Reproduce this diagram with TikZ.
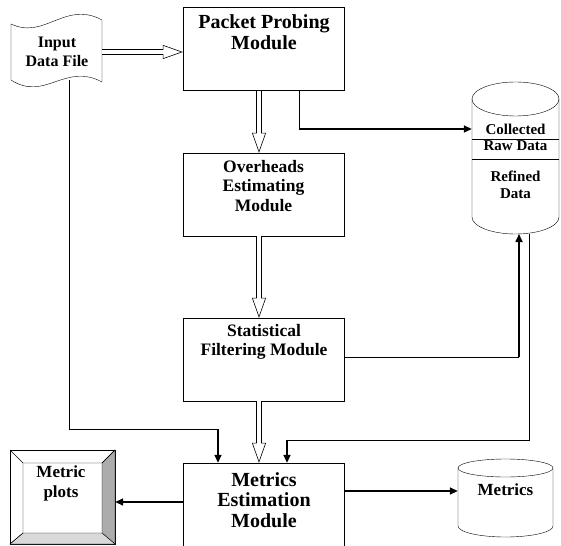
\documentclass[tikz,border=0pt]{standalone}
\usepackage{fontspec}
\setmainfont{Liberation Serif}
\usetikzlibrary{arrows.meta}
\usetikzlibrary{positioning}

\tikzset{
  modbox/.style={draw,thin,minimum width=161pt,minimum height=83pt},
  bigtext/.style={align=center,font=\fontsize{20}{20.5}\selectfont\bfseries},
  midtext/.style={align=center,font=\fontsize{17.5}{19.5}\selectfont\bfseries},
  smalltext/.style={align=center,font=\fontsize{16}{19}\selectfont\bfseries},
  dbtext/.style={align=center,font=\fontsize{15}{16.5}\selectfont\bfseries},
  flow/.style={line width=6pt,-{Triangle[open,fill=white,length=20pt 0 0,width=14pt 0 0,line width=0.6pt 0 0]},
    postaction={draw=white,line width=4.8pt,shorten >=19pt,-}},
  feed/.style={line width=1.6pt,-{Triangle[length=8pt,width=7pt]}},
  wire/.style={thin},
}

\begin{document}
\begin{tikzpicture}[x=1pt,y=-1pt]
\useasboundingbox (0,0) rectangle (561,545);
\clip (0,0) rectangle (561,545);

% input file (tape)
\draw[thin] (11,24) .. controls (45,40) and (65,0) .. (102,20) -- (102,82)
  .. controls (65,62) and (45,102) .. (11,80) -- cycle;
\node[smalltext] (inp) at (57,51.5) {Input\\Data File};
\coordinate (inpR) at (102,52);
\coordinate (inpB) at (69,80);

% module boxes
\node[modbox] (probe) at (263.5,49) {};
\node[bigtext] (probet) at (264,32) {Packet Probing\\Module};
\node[modbox] (over) at (263.5,194.5) {};
\node[midtext] (overt) at (263.5,186) {Overheads\\Estimating\\Module};
\node[modbox] (stat) at (263.5,359.5) {};
\node[midtext] (statt) at (264,342) {Statistical\\Filtering Module};
\node[modbox,minimum height=87pt] (est) at (263.5,506.5) {};
\node[bigtext] (estt) at (264,500) {Metrics\\Estimation\\Module};

% data store
\node[minimum width=87pt,minimum height=118pt,inner sep=0pt] (store) at (515.5,158) {};
\draw[thin] (472,99) -- (472,217) arc[start angle=180,end angle=0,x radius=43.5,y radius=17] -- (559,99);
\draw[thin] (515.5,99) ellipse [x radius=43.5,y radius=17];
\draw[thin] (472,139) -- (559,139);
\draw[thin] (472,159) -- (559,159);
\node[dbtext] (raw) at (515.5,137.5) {Collected\\Raw Data};
\node[dbtext] (refined) at (515.5,185) {Refined\\Data};

% metrics store
\node[minimum width=95pt,minimum height=58pt,inner sep=0pt] (mdb) at (505.5,497) {};
\draw[thin] (458,468) -- (458,526) arc[start angle=180,end angle=0,x radius=47.5,y radius=11] -- (553,468);
\draw[thin] (505.5,468) ellipse [x radius=47.5,y radius=9];
\node[dbtext,font=\fontsize{17}{19}\selectfont\bfseries] (mdbt) at (505.5,490) {Metrics};

% metric plots (bevel)
\node[draw,thin,minimum width=105pt,minimum height=94pt,inner sep=0pt] (plots) at (62.5,497) {};
\draw[thin,fill=gray!65] (115,450) -- (115,544) -- (102,533) -- (102,463) -- cycle;
\draw[thin,fill=gray!30] (10,544) -- (115,544) -- (102,533) -- (23,533) -- cycle;
\draw[thin] (10,450) -- (23,463) -- (102,463) -- (115,450);
\draw[thin] (10,544) -- (23,533) -- (23,463);
\node[align=center,font=\fontsize{17}{20}\selectfont\bfseries] (plotst) at (61,483) {Metric\\plots};

% main flow
\draw[flow] (inpR) -- (probe.west |- inpR);
\draw[flow] (probe.south -| 259,0) -- (over.north -| 259,0);
\draw[flow] (over.south -| 259,0) -- (stat.north -| 259,0);
\draw[flow] (stat.south -| 259,0) -- (est.north -| 259,0);

% side connections
\coordinate (k1) at (299,129);
\draw[wire] (probe.south -| k1) -- (k1);
\draw[feed] (k1) -- (store.west |- k1);

\coordinate (k2) at (519,357);
\draw[wire] (stat.east |- k2) -- (k2);
\draw[feed] (k2) -- (519,234);

\coordinate (k3) at (287,440);
\draw[wire] (529,234) |- (k3);
\draw[feed] (k3) -- (est.north -| k3);

\coordinate (k4) at (218,429);
\draw[wire] (inpB) |- (k4);
\draw[feed] (k4) -- (est.north -| k4);

\draw[feed] (est.west |- 0,502) -- (plots.east |- 0,502);
\draw[feed] (est.east |- 0,491) -- (mdb.west |- 0,491);

\end{tikzpicture}
\end{document}
